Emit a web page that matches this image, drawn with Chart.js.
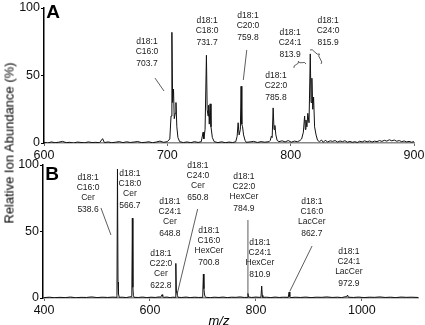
<!DOCTYPE html>
<html>
<head>
<meta charset="utf-8">
<script src="https://cdn.jsdelivr.net/npm/chart.js@4.4.1/dist/chart.umd.min.js"></script>
<style>
  body { margin: 0; background: #fff; }
  #wrap { position: relative; width: 425px; height: 325px; overflow: hidden; font-family: "Liberation Sans", Arial, sans-serif; }
  canvas { position: absolute; left: 0; }
  #cA { top: 0; }
  #cB { top: 156px; }
  #ytitle { position: absolute; left: 9px; top: 143px; transform: translate(-50%, -50%) rotate(-90deg); white-space: nowrap; font-size: 13px; font-weight: 400; color: #000; }
  #xtitle { position: absolute; left: 219px; top: 320px; transform: translate(-50%, -50%); font-size: 13px; font-style: italic; color: #000; }
</style>
</head>
<body>
<div id="wrap">
  <canvas id="cA" width="425" height="166"></canvas>
  <canvas id="cB" width="425" height="169"></canvas>
  <div id="ytitle">Relative Ion Abundance (%)</div>
  <div id="xtitle">m/z</div>
</div>
<script>
// panel A: spectrum (m/z, relative abundance %)
const mzA = [
  600, 603, 606, 609, 612, 615, 618, 621, 624, 627, 630, 633, 636, 639, 642, 645, 647.5, 649, 652, 655, 658, 661, 664, 667, 670, 673, 676, 679, 682, 685, 688, 691, 694, 697, 700,
  702, 703, 703.7, 704.3, 705, 705.6, 706.4, 707, 707.7, 708.6, 710,
  713, 716, 719, 722, 725, 727.5,
  729, 729.6, 730.6, 731.7, 732.3, 733, 733.5, 734, 734.7, 735.4, 736.5, 738,
  741, 744, 747, 750, 753, 755.5,
  756.6, 757.4, 758.2, 759.2, 759.8, 760.4, 761, 761.8, 763, 764,
  767, 770, 773, 776, 779, 782.5,
  783.5, 784.3, 785, 785.8, 786.5, 787.2, 788, 789, 790.5,
  793, 795.5, 798, 800.5, 803, 805.5, 807.5,
  808.9, 810.3, 811.3, 811.9, 812.4, 813.2, 813.9, 814.9, 815.9, 816.5, 817.2, 817.9, 818.6, 819.4, 820.6, 821.8, 823.4,
  825, 826.5, 828, 830, 832, 834, 836, 838, 840, 842, 844, 846, 848, 850, 852, 854, 856, 858, 860, 862, 864, 866, 868, 870, 872, 874, 876, 878, 880, 882, 884, 886, 888, 890, 892, 894, 896, 898, 900
];
const intA = [
  0.5, 0, 0.8, 0.2, 0.6, 1.2, 0.3, 0.5, 0, 0.7, 0.4, 0.2, 0.8, 0.3, 0.5, 0.2, 3.2, 0.3, 0.8, 0.2, 0.6, 1, 0.3, 0.9, 0.4, 0.7, 1.1, 0.3, 0.5, 0.9, 0.2, 0.7, 1.4, 0.5, 1,
  3, 20, 82, 30, 40, 18, 22, 30, 12, 4, 1,
  0.3, 0.8, 0.2, 1, 0.4, 1,
  8, 3, 10, 65, 25, 20, 28, 14, 29, 12, 4, 1,
  0.3, 0.9, 0.2, 0.7, 0.3, 1,
  5, 15, 6, 10, 42, 14, 12, 6, 2, 0.5,
  0.8, 1.2, 0.4, 1, 0.6, 1,
  2, 5, 4, 26, 10, 13, 6, 2, 1,
  1.6, 0.8, 1.8, 0.6, 1.4, 1, 1.8,
  3, 8, 20, 10, 17, 12, 22, 15, 66, 30, 48, 25, 34, 12, 6, 2, 1,
  2.2, 0.5, 2, 0.8, 1.6, 1.2, 1.8, 0.7, 1.5, 1, 1.7, 0.6, 1.2, 0.5, 1, 0.4, 1.3, 0.8, 1.6, 0.9, 1.5, 0.7, 1.4, 1, 1.8, 1.2, 2, 1.4, 2.4, 1.6, 2.2, 1.3, 1.8, 1, 1.5, 0.8, 1.2, 0.6, 1
];

// panel B
const mzB = [
  400, 410, 420, 430, 440, 450, 460, 470, 480, 490, 500, 510, 520, 530, 536,
  537.6, 538.6, 539.6, 540.5, 542,
  548, 555, 561, 565.7,
  566.7, 567.7, 568.6, 570,
  578, 586, 594, 602, 610, 617,
  620, 621.5, 622.8, 624, 626,
  632, 638, 643, 647.5,
  648.8, 649.8, 650.8, 651.8, 653,
  660, 668, 676, 684, 692, 699.5,
  700.8, 701.8, 702.8, 704, 706,
  714, 722, 730, 738, 746, 754, 762, 770, 778, 783.5,
  784.9, 786,
  792, 800, 806, 809.5,
  810.9, 812, 813,
  820, 828, 836, 844, 852, 861,
  862.7, 864, 865.5,
  874, 884, 894, 904, 914, 924, 934, 944, 954, 962, 968,
  971.5, 972.9, 974.5,
  984, 994, 1004, 1014, 1024, 1034, 1044, 1054, 1064, 1074, 1084, 1094, 1106
];
const intB = [
  0.3, 0.6, 0.2, 0.5, 0.3, 0.7, 0.2, 0.5, 0.4, 0.8, 0.3, 0.6, 0.4, 0.7, 0.5,
  2, 97, 12, 3, 0.5,
  0.6, 0.3, 0.8, 1,
  60, 8, 2, 0.5,
  0.4, 0.7, 0.3, 0.6, 0.4, 0.8,
  0.6, 1.5, 2.5, 1.2, 0.5,
  0.7, 0.3, 0.6, 0.5,
  26, 5, 4, 2, 0.5,
  0.4, 0.7, 0.3, 0.6, 0.4, 0.5,
  18, 7, 3, 1, 0.5,
  0.3, 0.6, 0.4, 0.7, 0.3, 0.6, 0.5, 0.8, 0.4, 0.5,
  3.5, 0.8,
  0.4, 0.7, 0.5, 0.6,
  9, 2, 0.5,
  0.6, 0.3, 0.7, 0.4, 0.6, 0.5,
  4.5, 1, 0.3,
  0.6, 0.4, 0.7, 0.3, 0.6, 0.5, 0.8, 0.4, 0.6, 0.3, 0.9,
  1, 2.2, 0.6,
  0.4, 0.7, 0.3, 0.6, 0.5, 0.8, 0.4, 0.6, 0.3, 0.7, 0.5, 0.6, 0.4
];

const ticksA = [600, 700, 800, 900];
const ticksB = [400, 600, 800, 1000];
const ticksY = [0, 50, 100];

// peak annotations
const labelsA = [
  ["d18:1", "C16:0", "703.7"],
  ["d18:1", "C18:0", "731.7"],
  ["d18:1", "C20:0", "759.8"],
  ["d18:1", "C22:0", "785.8"],
  ["d18:1", "C24:1", "813.9"],
  ["d18:1", "C24:0", "815.9"]
];
const labelsB = [
  ["d18:1", "C16:0", "Cer", "538.6"],
  ["d18:1", "C18:0", "Cer", "566.7"],
  ["d18:1", "C22:0", "Cer", "622.8"],
  ["d18:1", "C24:1", "Cer", "648.8"],
  ["d18:1", "C24:0", "Cer", "650.8"],
  ["d18:1", "C16:0", "HexCer", "700.8"],
  ["d18:1", "C22:0", "HexCer", "784.9"],
  ["d18:1", "C24:1", "HexCer", "810.9"],
  ["d18:1", "C16:0", "LacCer", "862.7"],
  ["d18:1", "C24:1", "LacCer", "972.9"]
];

// where the annotations sit, in axis units
const layoutA = {
  letter: ["A", 607.3, 96.3],
  pos: [[683.5, 74.8], [732.2, 90.4], [765.4, 94.1], [788.1, 49.6], [799.5, 81.5], [830.3, 90.4]],
  gaps: [0, 10, 22],
  leaders: [[690, 48.1, 697.3, 38.5], [764.4, 68.9, 761.6, 46.7]],
  braces: [[802.7, 55.6, 812.4, 58.5], [815.7, 68.9, 824.6, 58.5]]
};
const layoutB = {
  letter: ["B", 415, 93],
  pos: [[483, 90.2], [562, 93.2], [620.6, 33.1], [637.6, 72.2], [690.5, 99.2], [711.3, 50.4], [777.4, 91], [807.5, 41.4], [905.5, 72.2], [975.4, 34.6]],
  gaps: [0, 10, 20, 32],
  leaders: [[507.4, 67.7, 526.3, 47.4], [690, 66.9, 651, 2.5], [784.9, 58.6, 784.9, 3.5], [906, 39.1, 864, 5]],
  braces: []
};

const FONT = '"Liberation Sans", Arial, Helvetica, sans-serif';

function drawBrace(ctx, x1, y1, x2, y2, w) {
  const len = Math.hypot(x2 - x1, y2 - y1);
  const ux = (x2 - x1) / len, uy = (y2 - y1) / len;
  const nx = uy, ny = -ux;
  const p = (t, d) => [x1 + ux * len * t + nx * d, y1 + uy * len * t + ny * d];
  ctx.beginPath();
  ctx.moveTo(...p(0, 0));
  ctx.quadraticCurveTo(...p(0, w / 2), ...p(0.25, w / 2));
  ctx.quadraticCurveTo(...p(0.5, w / 2), ...p(0.5, w));
  ctx.quadraticCurveTo(...p(0.5, w / 2), ...p(0.75, w / 2));
  ctx.quadraticCurveTo(...p(1, w / 2), ...p(1, 0));
  ctx.stroke();
}

function annotate(id, texts, lay) {
  return {
    id: id,
    afterDatasetsDraw(chart) {
      const { ctx } = chart;
      const x = chart.scales.x, y = chart.scales.y;
      ctx.save();
      ctx.fillStyle = "#1a1a1a";
      ctx.strokeStyle = "#333";
      ctx.lineWidth = 0.8;
      ctx.textAlign = "center";
      ctx.textBaseline = "middle";
      ctx.font = "8.5px " + FONT;
      texts.forEach((lines, i) => {
        const px = x.getPixelForValue(lay.pos[i][0]);
        const py = y.getPixelForValue(lay.pos[i][1]);
        lines.forEach((t, j) => ctx.fillText(t, px, py + lay.gaps[j]));
      });
      lay.leaders.forEach(l => {
        ctx.beginPath();
        ctx.moveTo(x.getPixelForValue(l[0]), y.getPixelForValue(l[1]));
        ctx.lineTo(x.getPixelForValue(l[2]), y.getPixelForValue(l[3]));
        ctx.stroke();
      });
      lay.braces.forEach(b => {
        drawBrace(ctx, x.getPixelForValue(b[0]), y.getPixelForValue(b[1]),
          x.getPixelForValue(b[2]), y.getPixelForValue(b[3]), 5);
      });
      ctx.fillStyle = "#000";
      ctx.font = "bold 19px " + FONT;
      ctx.fillText(lay.letter[0], x.getPixelForValue(lay.letter[1]), y.getPixelForValue(lay.letter[2]));
      ctx.restore();
    }
  };
}

const noPad = s => { s.paddingLeft = 0; s.paddingRight = 0; s.paddingTop = 0; s.paddingBottom = 0; };

function makeChart(el, mz, vals, xMin, xMax, xTicks, pad, yWidth, xHeight, plugin) {
  const points = mz.map((m, i) => ({ x: m, y: vals[i] }));
  return new Chart(el, {
    type: "scatter",
    data: {
      datasets: [{
        data: points,
        showLine: true,
        borderColor: "#111",
        borderWidth: 1,
        pointRadius: 0,
        tension: 0
      }]
    },
    options: {
      responsive: false,
      animation: false,
      layout: { padding: pad },
      plugins: { legend: { display: false }, tooltip: { enabled: false } },
      scales: {
        x: {
          type: "linear",
          min: xMin,
          max: xMax,
          afterBuildTicks: s => { s.ticks = xTicks.map(v => ({ value: v })); },
          afterFit: s => { s.height = xHeight; noPad(s); },
          border: { color: "#888", width: 1.5 },
          grid: { drawOnChartArea: false, tickLength: 3, color: "#666" },
          ticks: { color: "#111", padding: 2, maxRotation: 0, font: { size: 12.5, family: FONT }, callback: v => String(v) }
        },
        y: {
          min: 0,
          max: 100,
          afterBuildTicks: s => { s.ticks = ticksY.map(v => ({ value: v })); },
          afterFit: s => { s.width = yWidth; noPad(s); },
          border: { color: "#000", width: 1.5 },
          grid: { drawOnChartArea: false, tickLength: 3, color: "#000" },
          ticks: { color: "#111", padding: 1, font: { size: 12.5, family: FONT }, callback: v => String(v) }
        }
      }
    },
    plugins: [plugin]
  });
}

makeChart(document.getElementById("cA"), mzA, intA, 600, 900, ticksA,
  { left: 0, right: 11, top: 8, bottom: 0 }, 44, 23, annotate("annotA", labelsA, layoutA));
makeChart(document.getElementById("cB"), mzB, intB, 398, 1106, ticksB,
  { left: 0, right: 7, top: 9, bottom: 0 }, 43, 27, annotate("annotB", labelsB, layoutB));
</script>
</body>
</html>
